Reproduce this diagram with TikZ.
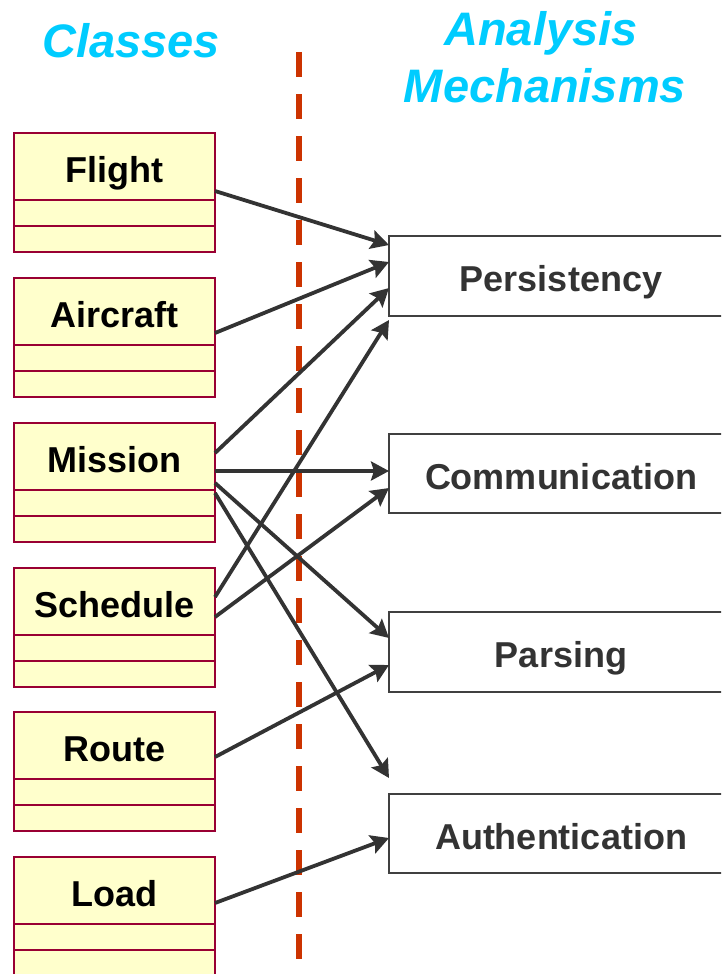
\documentclass[tikz,border=0pt]{standalone}
\usepackage{fontspec}
\setmainfont{Liberation Sans}
\usetikzlibrary{arrows.meta}
\definecolor{classfill}{HTML}{FFFFCC}
\definecolor{classline}{HTML}{990033}
\definecolor{titlecyan}{HTML}{00CCFF}
\definecolor{dividerred}{HTML}{CC3300}
\definecolor{ink}{HTML}{333333}
\definecolor{mechline}{HTML}{404040}

\begin{document}
\begin{tikzpicture}[x=1pt, y=-1pt,
  title/.style={text=titlecyan, font=\fontsize{47}{56}\selectfont\bfseries\itshape, anchor=base, inner sep=0pt},
  classname/.style={draw=classline, fill=classfill, line width=1.6pt, outer sep=0pt,
    minimum width=201pt, minimum height=67pt, inner sep=0pt,
    text height=31pt, text depth=0pt, text=black,
    font=\fontsize{36}{40}\selectfont\bfseries, anchor=north west},
  classcomp/.style={draw=classline, fill=classfill, line width=1.6pt, outer sep=0pt,
    minimum width=201pt, minimum height=26pt, inner sep=0pt, anchor=north west},
  mech/.style={draw=mechline, fill=white, line width=1.6pt, outer sep=0pt,
    minimum width=344pt, minimum height=80pt, inner sep=0pt,
    text height=31pt, text depth=0pt, text=ink,
    font=\fontsize{36}{40}\selectfont\bfseries, anchor=north west},
  divider/.style={draw=dividerred, line width=6pt, dash pattern=on 25pt off 17pt},
  conn/.style={draw=ink, line width=3.8pt, -{Stealth[length=18pt, width=19pt, inset=3pt]}}
]
\clip (0,0) rectangle (721,974);

% column headings
\node[title] (classes) at (131,58) {Classes};
\node[title] (analysis) at (541,46) {Analysis};
\node[title] (mechanisms) at (545,102) {Mechanisms};

% divider between the two columns
\coordinate (divtop) at (299,52);
\coordinate (divbot) at (299,959);
\draw[divider] (divtop) -- (divbot);

% classes: name compartment plus two empty compartments
\foreach \nm/\txt/\top in {flight/Flight/133, aircraft/Aircraft/278,
    mission/Mission/423, schedule/Schedule/568, route/Route/712, load/Load/857} {
  \node[classname] (\nm) at (14,\top) {\txt};
  \node[classcomp] (\nm-a) at (\nm.south west) {};
  \node[classcomp] (\nm-b) at (\nm-a.south west) {};
}

% analysis mechanisms
\node[mech] (pers)  at (389,236) {Persistency};
\node[mech, minimum height=79pt] (comm)  at (389,434) {Communication};
\node[mech] (parse) at (389,612) {Parsing};
\node[mech, minimum height=79pt] (auth)  at (389,794) {Authentication};

% class -> mechanism mappings
\draw[conn] ([yshift=-24.5pt]flight.east)   -- ([yshift=31pt]pers.west);
\draw[conn] ([yshift=-21.5pt]aircraft.east) -- ([yshift=14pt]pers.west);
\draw[conn] ([yshift=3.5pt]mission.east)    -- ([yshift=-12pt]pers.west);
\draw[conn] ([yshift=4.5pt]schedule.east)   -- ([yshift=-44pt]pers.west);
\draw[conn] ([yshift=-14.5pt]mission.east)  -- ([yshift=2.5pt]comm.west);
\draw[conn] ([yshift=-15.5pt]schedule.east) -- ([yshift=-14.5pt]comm.west);
\draw[conn] ([yshift=-26.5pt]mission.east)  -- ([yshift=14pt]parse.west);
\draw[conn] ([yshift=-36.5pt]mission.east)  -- ([yshift=55.5pt]auth.west);
\draw[conn] ([yshift=-11.5pt]route.east)    -- ([yshift=-13pt]parse.west);
\draw[conn] ([yshift=-12.5pt]load.east)     -- ([yshift=-4.5pt]auth.west);
\end{tikzpicture}
\end{document}
